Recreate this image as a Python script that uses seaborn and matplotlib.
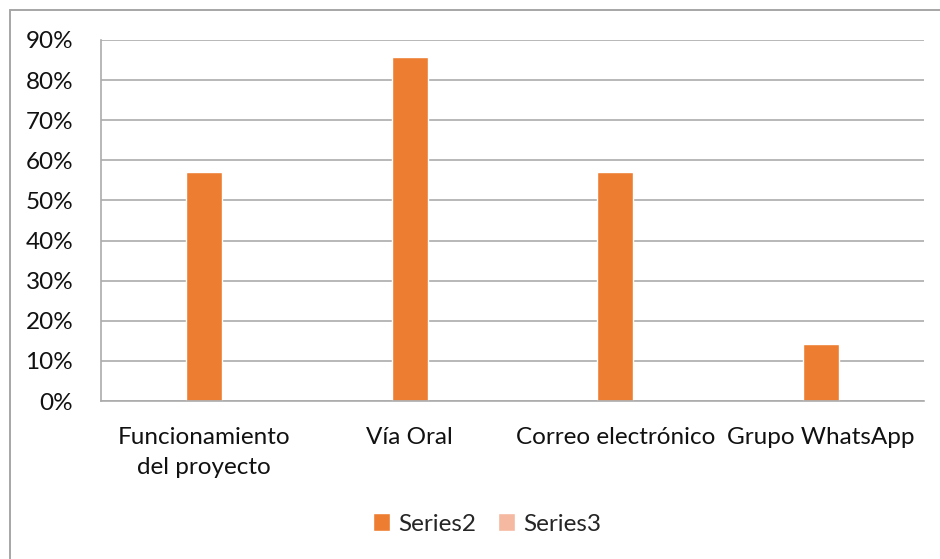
import matplotlib
matplotlib.use("Agg")
import matplotlib.pyplot as plt
from matplotlib.lines import Line2D
from matplotlib.patches import Patch
import seaborn as sns
import pandas as pd

categories = ["Funcionamiento\ndel proyecto", "Vía Oral", "Correo electrónico", "Grupo WhatsApp"]
series2 = [0.5714, 0.8571, 0.5714, 0.1429]
series3 = [0.0, 0.0, 0.0, 0.0]
yticks = [0.0, 0.1, 0.2, 0.3, 0.4, 0.5, 0.6, 0.7, 0.8, 0.9]
ytick_labels = ["0%", "10%", "20%", "30%", "40%", "50%", "60%", "70%", "80%", "90%"]

color2 = "#ED7D31"
color3 = "#F4B9A0"
grid_color = "#ABABAB"

df = pd.DataFrame({
    "categoria": categories * 2,
    "valor": series2 + series3,
    "serie": ["Series2"] * 4 + ["Series3"] * 4,
})

sns.set_theme(style="white")
plt.rcParams["font.family"] = ["Lato", "DejaVu Sans"]

fig = plt.figure(figsize=(9.4, 5.59), dpi=100)
ax = fig.add_axes([101 / 940, 1 - 401 / 559, (924 - 101) / 940, (401 - 40) / 559])

sns.barplot(data=df, x="categoria", y="valor", hue="serie", dodge=False,
            palette={"Series2": color2, "Series3": color3},
            width=0.175, ax=ax, legend=False, saturation=1)

ax.set_ylim(0, 0.9)
ax.set_xlim(-0.5, 3.5)
ax.set_yticks(yticks)
ax.set_yticklabels(ytick_labels, fontsize=17.5, color="#111111")
ax.tick_params(axis="y", length=0, pad=20)
ax.tick_params(axis="x", length=0, pad=19)
for lbl in ax.get_xticklabels():
    lbl.set_fontsize(17.5)
    lbl.set_color("#111111")
    lbl.set_linespacing(1.5)
    lbl.set_verticalalignment("top")
ax.set_xlabel("")
ax.set_ylabel("")

ax.yaxis.grid(True, color=grid_color, linewidth=1.2)
ax.set_axisbelow(True)
for side in ["top", "right"]:
    ax.spines[side].set_visible(False)
ax.spines["left"].set_color(grid_color)
ax.spines["left"].set_linewidth(1.2)
ax.spines["bottom"].set_color(grid_color)
ax.spines["bottom"].set_linewidth(1.2)

handles = [Patch(facecolor=color2, label="Series2"),
           Patch(facecolor=color3, label="Series3")]
fig.legend(handles=handles, loc="center", bbox_to_anchor=(487 / 940, 1 - 524 / 559),
           ncol=2, frameon=False, fontsize=17.5, handlelength=0.7, handleheight=0.7,
           handletextpad=0.35, columnspacing=0.9)

# chart frame along the top and left
fig.add_artist(Line2D([9.5 / 940, 9.5 / 940], [0, 1 - 9.5 / 559],
                      transform=fig.transFigure, color="#A6A6A6", linewidth=1.4))
fig.add_artist(Line2D([9.5 / 940, 1], [1 - 9.5 / 559, 1 - 9.5 / 559],
                      transform=fig.transFigure, color="#A6A6A6", linewidth=1.4))

fig.savefig("out.png", dpi=100, facecolor="white")
